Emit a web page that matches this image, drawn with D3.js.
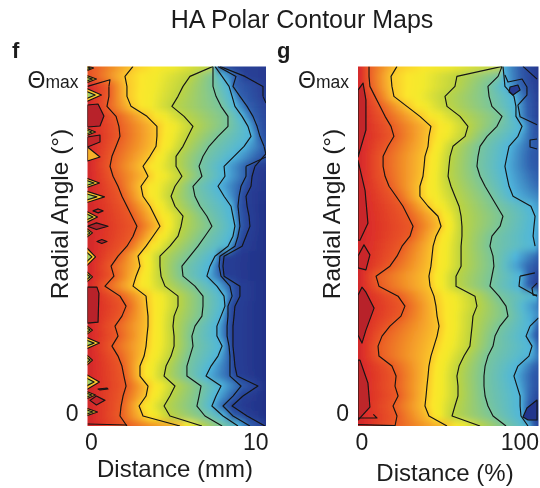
<!DOCTYPE html>
<meta charset="utf-8">
<style>
    html, body { margin: 0; background: #fff; }
    svg { display: block; }
    text { font-family: "Liberation Sans", Arial, sans-serif; fill: #1c1c1c; }
</style>
<svg width="540" height="488"></svg>
<script src="https://cdn.jsdelivr.net/npm/d3@7"></script>
<script>

    // radial angle of each row, in % of theta max
    const angleRows = [104, 101, 98, 95, 92, 89, 86, 83, 80, 77, 74, 71, 68, 65, 62, 59, 56, 53, 50, 47, 44, 41, 38, 35, 32, 29, 26, 23, 20, 17, 14, 11, 8, 5, 2, -1, -4];

    const angleTicks = [0, 100];
    const title = "HA Polar Contour Maps";

    // panel f: distance (mm) of every contour in each row, null = off the map
    const fLevel1 = [null, null, 1.20, 1.20, 1.09, 1.60, 1.76, 1.82, 1.60, 1.37, 1.26, 1.43, 1.71, 1.93, 2.21, 2.49, 2.77, 2.55, 2.21, 1.71, 1.32, 1.48, 0.98, 1.82, 2.16, 1.93, 1.54, 1.71, 1.37, 1.71, 1.93, 2.04, 2.16, 1.99, 1.88, 1.82, 2.21];
    const fLevel2 = [2.55, 2.10, 2.21, 2.21, 2.44, 3.33, 3.89, 3.89, 3.84, 3.50, 3.11, 3.39, 3.00, 3.11, 3.50, 3.78, 4.06, 3.67, 3.28, 2.83, 2.94, 2.72, 2.55, 3.28, 3.33, 3.39, 3.39, 3.33, 3.28, 3.17, 2.94, 2.94, 3.39, 3.28, 2.89, 3.11, 5.18];
    const fLevel3 = [7.03, 5.74, 5.35, 5.07, 4.73, 5.41, 5.91, 5.63, 5.35, 4.96, 4.96, 5.29, 4.90, 4.68, 4.90, 5.35, 5.24, 5.07, 4.62, 4.06, 4.06, 4.12, 4.34, 5.07, 5.07, 4.85, 4.79, 4.85, 4.85, 4.68, 4.40, 4.29, 4.90, 4.62, 4.29, 4.62, 6.41];
    const fLevel4 = [7.03, 7.03, 7.03, 7.20, 7.48, 7.87, 7.87, 7.31, 6.81, 6.47, 6.25, 6.41, 5.91, 6.02, 6.30, 6.69, 6.97, 6.58, 6.19, 5.74, 5.29, 5.35, 6.02, 6.47, 6.47, 6.41, 6.02, 5.85, 5.91, 5.74, 5.57, 5.57, 6.36, 6.25, 6.13, 6.58, 7.54];
    const fLevel5 = [7.14, 7.54, 7.93, 8.10, 8.26, 8.66, 8.99, 9.16, 8.77, 8.21, 7.65, 7.70, 7.31, 7.65, 8.04, 8.15, 8.26, 8.15, 7.87, 7.14, 6.86, 6.69, 7.25, 7.65, 7.70, 7.48, 7.25, 7.25, 7.54, 7.31, 6.92, 6.64, 7.48, 7.20, 6.97, 7.59, 8.43];
    const fLevel6 = [7.31, 8.32, 8.15, 8.54, 8.94, 9.27, 9.50, 9.66, 9.89, null, 8.88, 8.88, 8.60, 8.49, 8.43, 8.49, 8.54, 8.43, 8.26, 7.42, 7.37, 7.48, 7.98, 8.10, 7.87, 7.87, 7.82, 7.82, 7.93, 7.98, 7.98, 7.98, 8.60, 8.15, 7.59, 8.15, 9.10];
    const fLevel7 = [7.42, 8.82, 9.83, 9.83, null, null, null, null, null, null, 9.38, 9.22, 9.16, 8.88, 8.94, 9.05, 9.10, 8.88, 8.66, 7.65, 7.59, 7.65, 8.54, 8.54, 8.26, 8.21, 8.15, 8.15, 8.15, 8.21, 8.26, 8.38, 9.55, 8.71, 8.10, 8.94, 9.94];
    const fRightTone = [0.8, 0.7, 0.8, 1, 1.1, 1.2, 1.3, 1.5, 1.7, 1.7, 0.8, 0.6, 0.5, 0.4, 0.3, 0.3, 0.3, 0.3, 0.3, 0.3, 0.3, 0.3, 0.3, 0.3, 0.3, 0.3, 0.3, 0.3, 0.3, 0.3, 0.3, 0.3, 0.3, 0.3, 0.3, 0.3, 0.5];

    // small noisy spots on the left edge of f
    const fSpotAngle = [103.5, 100.2, 95.4, 84.3, 69, 64.8, 58.8, 54, 46.8, 40.8, 24.8, 20.9, 15.8, 9.2, 5.3, 0.2];
    const fSpotWidth = [0.34, 0.5, 0.78, 0.45, 0.67, 0.95, 0.56, 0.28, 0.45, 0.28, 0.28, 0.67, 0.28, 0.67, 0.45, 0.56];
    const fSpotHeight = [0.9, 1.2, 2.1, 1.2, 1.5, 1.8, 1.8, 1.5, 3, 1.8, 1.5, 1.8, 1.8, 2.4, 1.2, 1.2];

    // closed islands [distance, angle], with the tone they are filled in
    const fIslands = [
        { tone: 8.6, pts: [[0, 92.4], [0.59, 92.7], [0.92, 89.1], [0.7, 86.1], [0, 85.8]] },
        { tone: 8.4, pts: [[0, 82.8], [0.7, 83.4], [0.7, 81.3], [0, 79.8]] },
        { tone: 6.2, pts: [[0, 79.8], [0.7, 76.8], [0, 75.6]] },
        { tone: 8.6, pts: [[0, 37.7], [0.53, 37.7], [0.64, 35.9], [0.59, 27.2], [0, 26.9]] },
        { tone: 8.4, pts: [[0.31, 60.6], [0.6, 61.2], [0.87, 60.6], [0.6, 60]] },
        { tone: 8.8, pts: [[0, 56], [0.5, 57], [1.15, 56], [0.5, 55]] },
        { tone: 8.8, pts: [[0.53, 51.4], [0.8, 52], [1.09, 51.4], [0.8, 50.8]] },
        { tone: 8.4, pts: [[0.14, 3.7], [0.5, 5], [0.98, 3.7], [0.5, 2.3]] },
        { tone: 8.8, pts: [[0.59, 7.1], [1.1, 7.4], [1.15, 7.1], [0.7, 6.8]] }
    ];
    const fStrokes = [
        [[0, 98], [1.26, 100], [1.20, 98]],
        [[9.89, 80], [10, 77.5]],
        [[10, 76.8], [8.88, 74]],
        [[9.83, 95], [10, 93]],
        [[10, 77.8], [9.38, 74]],
        [[0, -3.4], [2.21, -3.7]]
    ];

    // panel g: distance (%) of every contour in each row
    const gLevel1 = [6.1, 6.1, 6.6, 9.4, 12.2, 15.0, 18.3, 19.9, 16.6, 13.9, 13.9, 15.0, 17.2, 21.1, 24.9, 27.7, 30.5, 28.8, 24.4, 21.6, 17.7, 10.0, 11.6, 22.2, 26.0, 23.8, 17.7, 13.3, 11.1, 11.6, 18.8, 21.1, 20.5, 22.2, 19.4, 21.6, 20.5];
    const gLevel2 = [21.6, 18.3, 18.8, 19.9, 27.1, 34.3, 40.4, 39.3, 38.8, 37.1, 36.6, 36.0, 34.3, 34.3, 38.8, 44.3, 46.0, 43.2, 41.6, 41.0, 40.4, 39.3, 39.9, 42.1, 43.2, 43.8, 44.9, 43.8, 42.1, 40.4, 39.3, 38.8, 38.2, 37.7, 37.1, 39.3, 49.3];
    const gLevel3 = [79.8, 54.8, 53.7, 48.2, 49.3, 56.5, 60.9, 59.3, 52.6, 51.0, 50.4, 49.9, 51.5, 53.7, 56.0, 57.1, 57.6, 57.6, 57.1, 57.1, 57.1, 54.3, 54.3, 64.8, 65.9, 63.7, 63.2, 62.6, 62.0, 58.7, 56.0, 54.8, 55.4, 55.4, 53.7, 52.1, 67.6];
    const gLevel4 = [79.8, 77.6, 72.0, 72.6, 74.2, 79.8, 77.0, 71.5, 67.6, 66.5, 65.9, 67.6, 70.4, 73.7, 77.0, 80.3, 78.7, 74.2, 73.1, 74.8, 75.3, 74.2, 73.1, 78.1, 82.0, 83.1, 78.7, 75.9, 74.8, 72.0, 70.4, 69.8, 69.8, 70.4, 72.0, 74.8, 82.0];
    const gLevel5 = [80.3, 80.9, 81.4, 86.4, 87.5, 87.5, 90.9, 88.6, 83.7, 82.5, 81.4, 82.5, 83.7, 85.9, 95.8, 98.1, 97.5, 97.0, 98.1, null, null, 89.8, 89.2, 99.2, null, null, 95.3, 93.1, 96.4, 94.7, 88.6, 86.4, 88.1, 89.8, 89.8, 90.3, 94.2];
    const gRightTone = [0.6, 0.6, 0.8, 0.9, 1, 1, 1.3, 1.5, 1.7, 1.6, 1.7, 1.9, 2.1, 2.4, 2.7, 2.8, 2.8, 2.7, 2.5, 2, 1.5, 1, 0.8, 1.5, 2.3, 2.5, 1.9, 1.6, 2, 2.3, 1.8, 1.6, 1.5, 1.2, 0.8, 0.5, 1.2];

    const gIslands = [
        { tone: 8.4, pts: [[2.8, 99], [4.4, 93.9], [4.4, 84.9], [0, 76.8], [0, 96.9]] },
        { tone: 8.3, pts: [[0, 75.8], [3.9, 66.8], [5.5, 56.9], [1.1, 51.8], [0, 51.8]] },
        { tone: 8.3, pts: [[3.3, 50.4], [6.6, 47.4], [4.4, 42.9], [0, 43.5], [0, 47.1]] },
        { tone: 8.6, pts: [[2.2, 37.7], [4.4, 36.2], [8.9, 31.4], [4.4, 24.8], [2.2, 20.9], [0, 23.3], [0, 35.3]] },
        { tone: 8.5, pts: [[1.1, 15.8], [5.5, 8.9], [6.6, 1.7], [0, -2.2], [0, 15.8]] },
        { tone: 0.8, pts: [[84.2, 97.8], [88.6, 98.4], [89.8, 96.9], [85.9, 95.4], [83.7, 96.3]] },
        { tone: 0.5, pts: [[99.2, 3.8], [93.6, 1.4], [91.4, -1.3], [94.2, -2.2], [99.2, -2.2]] }
    ];
    const gStrokes = [
        [[81.4, 101.4], [83.1, 99.3], [90.9, 100.2], [93.6, 97.8], [93.6, 95.4], [88.6, 92.4], [89.8, 88.9], [99.2, 86.5]],
        [[91.4, 104], [99.2, 100.2]],
        [[99.2, 82.2], [95.3, 81.9], [95.3, 79.8], [99.2, 79.2]],
        [[99.2, 38.9], [96.4, 37.4], [97, 35.3], [99.2, 35.3]],
        [[98, 42], [89.8, 41]],
        [[100, 28.5], [95.3, 26]],
        [[0, -1.6], [10.5, -1.6], [8.5, -0.5]],
        [[0, -3.6], [20.5, -3.9]]
    ];

    // tone 0 = deep blue ... 9 = deep red, whole numbers are the contour levels
    const toneDomain = [0, 1, 2, 3, 4, 5, 5.5, 5.75, 6, 7, 8, 9];
    const toneColors = ["#1e2c82", "#283f96", "#2f5fae", "#4fb6dc", "#78c59c", "#bcd33f", "#f2e92c", "#fbe62a", "#fac52c", "#ea5a24", "#db2a2a", "#a01f2b"];
    const levelTones = [7, 6, 5, 4, 3, 2, 1];

    const tone = d3.scaleLinear().domain(toneDomain).range(toneColors);

    const TOP = 66.4, BOTTOM = 426;

    var svg = d3.select("svg");
    var defs = svg.append("defs");

    defs.append("filter").attr("id", "soft")
        .attr("x", "-5%").attr("y", "-5%").attr("width", "110%").attr("height", "110%")
        .append("feGaussianBlur").attr("stdDeviation", "1 3.6");
    defs.append("filter").attr("id", "photo")
        .attr("x", 0).attr("y", 0).attr("width", 540).attr("height", 488)
        .attr("filterUnits", "userSpaceOnUse")
        .append("feGaussianBlur").attr("stdDeviation", 0.55);

    var page = svg.append("g").attr("filter", "url(#photo)");

    page.append("text")
        .attr("x", 302).attr("y", 28)
        .attr("text-anchor", "middle")
        .style("font-size", "25px")
        .text(title);

    function drawPanel(p) {
        var x = d3.scaleLinear().domain(p.domain).range(p.range);
        var y = d3.scaleLinear().domain([d3.max(angleRows), d3.min(angleRows)]).range([TOP, BOTTOM]);

        var clipId = "clip-" + p.name;
        defs.append("clipPath").attr("id", clipId).append("rect")
            .attr("x", p.range[0]).attr("y", TOP)
            .attr("width", p.range[1] - p.range[0]).attr("height", BOTTOM - TOP);

        var g = page.append("g");
        var plot = g.append("g").attr("clip-path", "url(#" + clipId + ")");
        var field = plot.append("g").attr("filter", "url(#soft)");

        // one horizontal gradient for each row, with its stops on the contours
        angleRows.forEach(function (a, i) {
            var knots = [{ d: p.domain[0], t: p.levels[0][i] == null ? 7.2 : 8.2 }];
            p.levels.forEach(function (lev, j) {
                if (lev[i] != null) knots.push({ d: lev[i], t: levelTones[j] });
            });
            knots.push({ d: p.domain[1], t: p.rightTone[i] });

            var id = p.name + "-row-" + i;
            var grad = defs.append("linearGradient").attr("id", id)
                .attr("gradientUnits", "userSpaceOnUse")
                .attr("x1", x(p.domain[0])).attr("x2", x(p.domain[1]))
                .attr("y1", 0).attr("y2", 0);
            d3.pairs(knots).forEach(function (pair) {
                [0, 0.25, 0.5, 0.75, 1].forEach(function (u) {
                    grad.append("stop")
                        .attr("offset", (pair[0].d + (pair[1].d - pair[0].d) * u - p.domain[0]) / (p.domain[1] - p.domain[0]))
                        .attr("stop-color", tone(pair[0].t + (pair[1].t - pair[0].t) * u));
                });
            });

            var y0 = i == 0 ? TOP - 20 : y(a) - 5.2;
            var y1 = i == angleRows.length - 1 ? BOTTOM + 20 : y(a) + 5.2;
            field.append("rect")
                .attr("x", p.range[0] - 20).attr("width", p.range[1] - p.range[0] + 40)
                .attr("y", y0).attr("height", y1 - y0)
                .attr("fill", "url(#" + id + ")");
        });

        var contour = d3.line()
            .defined(function (d) { return d[0] != null; })
            .x(function (d) { return x(d[0]); })
            .y(function (d) { return y(d[1]); });
        var closed = d3.line()
            .x(function (d) { return x(d[0]); })
            .y(function (d) { return y(d[1]); })
            .curve(d3.curveLinearClosed);

        function lineStyle(sel) {
            sel.attr("stroke", "#141414").attr("stroke-width", 1.15).attr("stroke-linejoin", "round");
        }

        // edge spots, with a smaller one of the next tone inside
        p.spotAngle.forEach(function (a, i) {
            [[1, 6], [0.55, 4.6]].forEach(function (s) {
                var w = p.spotWidth[i] * s[0], h = p.spotHeight[i] * s[0];
                plot.append("path")
                    .attr("d", closed([[-0.1, a + h], [w, a], [-0.1, a - h]]))
                    .attr("fill", tone(s[1]))
                    .call(lineStyle);
            });
        });

        p.islands.forEach(function (d) {
            plot.append("path")
                .attr("d", closed(d.pts))
                .attr("fill", tone(d.tone))
                .call(lineStyle);
        });

        p.levels.forEach(function (lev) {
            plot.append("path")
                .datum(lev.map(function (v, i) { return [v, angleRows[i]]; }))
                .attr("d", contour)
                .attr("fill", "none")
                .call(lineStyle);
        });

        p.strokes.forEach(function (s) {
            plot.append("path")
                .attr("d", contour(s))
                .attr("fill", "none")
                .call(lineStyle);
        });

        // axes have labels only, no lines or tick marks
        var xAxis = g.append("g")
            .attr("transform", "translate(0," + BOTTOM + ")")
            .call(d3.axisBottom(x).tickValues(p.domain).tickSize(0).tickPadding(8));
        xAxis.select(".domain").remove();
        xAxis.selectAll("text")
            .style("font-size", "23px").style("font-family", null)
            .attr("text-anchor", function (d, i) { return i ? "end" : "start"; })
            .attr("dx", function (d, i) { return i ? p.endShift : -3; });

        var yAxis = g.append("g")
            .attr("transform", "translate(" + p.range[0] + ",0)")
            .call(d3.axisLeft(y).tickValues(angleTicks).tickSize(0).tickPadding(9).tickFormat(""));
        yAxis.select(".domain").remove();
        yAxis.selectAll("text").each(function (d) {
            var t = d3.select(this).style("font-size", "23px");
            if (d == 0) {
                t.text("0");
            } else {
                t.append("tspan").text("\u0398");
                t.append("tspan").style("font-size", "17.5px").text("max");
            }
        });

        g.append("text")
            .attr("transform", "translate(" + p.yTitleX + ",214) rotate(-90)")
            .attr("text-anchor", "middle")
            .style("font-size", "24.5px")
            .text("Radial Angle (\u00b0)");

        g.append("text")
            .attr("x", p.xTitleX).attr("y", p.xTitleY)
            .attr("text-anchor", "middle")
            .style("font-size", "24px")
            .text(p.xTitle);

        g.append("text")
            .attr("x", p.letterX).attr("y", 58)
            .style("font-size", "22px").style("font-weight", "bold")
            .text(p.name);
    }

    drawPanel({
        name: "f", domain: [0, 10], range: [87.5, 266],
        levels: [fLevel1, fLevel2, fLevel3, fLevel4, fLevel5, fLevel6, fLevel7],
        rightTone: fRightTone, islands: fIslands, strokes: fStrokes,
        spotAngle: fSpotAngle, spotWidth: fSpotWidth, spotHeight: fSpotHeight,
        endShift: 2, yTitleX: 68, xTitleX: 175, xTitleY: 477,
        xTitle: "Distance (mm)", letterX: 12
    });

    drawPanel({
        name: "g", domain: [0, 100], range: [358, 538.5],
        levels: [gLevel1, gLevel2, gLevel3, gLevel4, gLevel5],
        rightTone: gRightTone, islands: gIslands, strokes: gStrokes,
        spotAngle: [], spotWidth: [], spotHeight: [],
        endShift: 0, yTitleX: 340, xTitleX: 445, xTitleY: 481,
        xTitle: "Distance (%)", letterX: 277
    });

</script>
